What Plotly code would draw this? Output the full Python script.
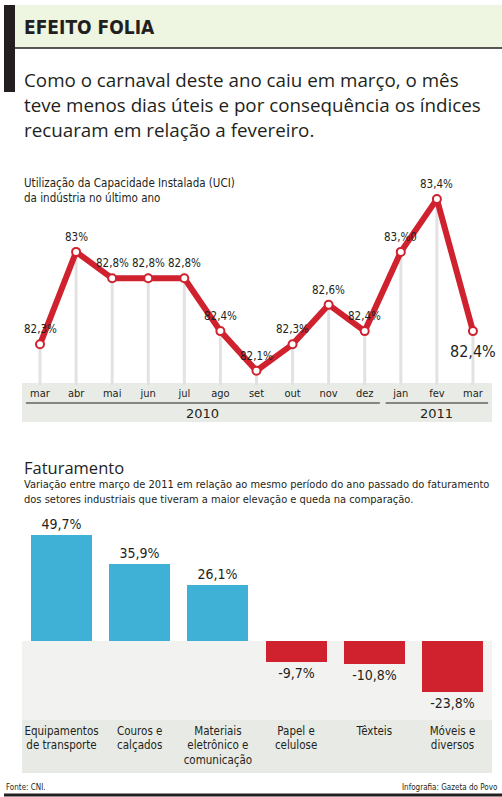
import plotly.graph_objects as go

# dados UCI (utilizacao da capacidade instalada)
meses = ['mar', 'abr', 'mai', 'jun', 'jul', 'ago', 'set', 'out', 'nov', 'dez', 'jan', 'fev', 'mar']
uci = [82.3, 83.0, 82.8, 82.8, 82.8, 82.4, 82.1, 82.3, 82.6, 82.4, 83.0, 83.4, 82.4]
uci_rotulos = ['82,3%', '83%', '82,8%', '82,8%', '82,8%', '82,4%', '82,1%', '82,3%',
               '82,6%', '82,4%', '83,%0', '83,4%', '82,4%']

# dados faturamento
setores = ['Equipamentos<br>de transporte', 'Couros e<br>calçados',
           'Materiais<br>eletrônico e<br>comunicação', 'Papel e<br>celulose',
           'Têxteis', 'Móveis e<br>diversos']
faturamento = [49.7, 35.9, 26.1, -9.7, -10.8, -23.8]
fat_rotulos = ['49,7%', '35,9%', '26,1%', '-9,7%', '-10,8%', '-23,8%']

W, H = 502, 797
VERMELHO = '#d0222e'
AZUL = '#3fb1d6'
TINTA = '#231f20'
NARROW = 'DejaVu Sans Condensed, Liberation Sans Narrow, sans-serif'


def py(px):
    # pixel (do topo) -> coordenada paper
    return 1 - px / H


fig = go.Figure()

# linhas verticais cinzas de cada ponto ate o eixo
y_min = 82.1 - (385 - 370.7) / 132
gx, gy = [], []
for i, v in enumerate(uci):
    gx += [i, i, None]
    gy += [v, y_min, None]
fig.add_trace(go.Scatter(x=gx, y=gy, mode='lines', line=dict(color='#e2e2e2', width=3),
                         hoverinfo='skip', showlegend=False))

fig.add_trace(go.Scatter(
    x=list(range(len(uci))), y=uci, mode='lines+markers',
    line=dict(color=VERMELHO, width=6),
    marker=dict(size=8, color='white', line=dict(color=VERMELHO, width=2)),
    showlegend=False, cliponaxis=False))

for i, (v, t) in enumerate(zip(uci, uci_rotulos)):
    ultimo = i == len(uci) - 1
    fig.add_annotation(x=i, y=v, xref='x', yref='y', text=t, showarrow=False,
                       yshift=-20 if ultimo else 15,
                       font=dict(family=NARROW, size=16 if ultimo else 11.5, color=TINTA))

# barras do faturamento
fig.add_trace(go.Bar(
    x=list(range(len(setores))), y=faturamento, xaxis='x2', yaxis='y2',
    width=0.78, marker=dict(color=[AZUL if v > 0 else VERMELHO for v in faturamento], line=dict(width=0)),
    text=fat_rotulos, textposition='outside', cliponaxis=False,
    textfont=dict(family=NARROW, size=14, color=TINTA),
    showlegend=False))

shapes = [
    # cabecalho
    dict(type='rect', xref='paper', yref='paper', x0=15 / W, x1=1, y0=py(48), y1=py(5),
         fillcolor='#eef5e1', line_width=0, layer='below'),
    dict(type='rect', xref='paper', yref='paper', x0=4 / W, x1=15 / W, y0=py(92), y1=py(5),
         fillcolor=TINTA, line_width=0),
    dict(type='line', xref='paper', yref='paper', x0=15 / W, x1=1, y0=py(48), y1=py(48),
         line=dict(color=TINTA, width=1.5)),
    # faixa dos meses
    dict(type='rect', xref='paper', yref='paper', x0=22 / W, x1=492 / W, y0=py(422), y1=py(383),
         fillcolor='#e9ece6', line_width=0, layer='below'),
    dict(type='line', xref='x', yref='paper', x0=-0.39, x1=9.42, y0=py(403), y1=py(403),
         line=dict(color=TINTA, width=1.2)),
    dict(type='line', xref='x', yref='paper', x0=9.58, x1=12.42, y0=py(403), y1=py(403),
         line=dict(color=TINTA, width=1.2)),
    # faixas do grafico de barras
    dict(type='rect', xref='paper', yref='paper', x0=22 / W, x1=492 / W, y0=py(720), y1=py(641),
         fillcolor='#f2f3f0', line_width=0, layer='below'),
    dict(type='rect', xref='paper', yref='paper', x0=22 / W, x1=492 / W, y0=py(773), y1=py(720),
         fillcolor='#e8ebe5', line_width=0, layer='below'),
    # linha do rodape
    dict(type='line', xref='paper', yref='paper', x0=4 / W, x1=1, y0=py(795), y1=py(795),
         line=dict(color=TINTA, width=3)),
]

PARA = dict(family='Open Sans', size=18.8, color=TINTA)
textos = [
    dict(x=22 / W, y=py(27), text='<b>EFEITO FOLIA</b>', font=dict(family=NARROW, size=19, color=TINTA)),
    dict(x=22 / W, y=py(80), text='Como o carnaval deste ano caiu em março, o mês', font=PARA),
    dict(x=22 / W, y=py(105), text='teve menos dias úteis e por consequência os índices', font=PARA),
    dict(x=22 / W, y=py(130), text='recuaram em relação a fevereiro.', font=PARA),
    dict(x=22 / W, y=py(183), text='Utilização da Capacidade Instalada (UCI)',
         font=dict(family=NARROW, size=11.5, color=TINTA)),
    dict(x=22 / W, y=py(198), text='da indústria no último ano',
         font=dict(family=NARROW, size=11.5, color=TINTA)),
    dict(x=22 / W, y=py(467), text='Faturamento', font=dict(family='Open Sans', size=16.5, color=TINTA)),
    dict(x=22 / W, y=py(484),
         text='Variação entre março de 2011 em relação ao mesmo período do ano passado do faturamento',
         font=dict(family=NARROW, size=11, color=TINTA)),
    dict(x=22 / W, y=py(499),
         text='dos setores industriais que tiveram a maior elevação e queda na comparação.',
         font=dict(family=NARROW, size=11, color=TINTA)),
    dict(x=4 / W, y=py(787), text='Fonte: CNI.', font=dict(family=NARROW, size=8, color=TINTA)),
]
for t in textos:
    fig.add_annotation(xref='paper', yref='paper', xanchor='left', yanchor='middle',
                       showarrow=False, **t)
fig.add_annotation(xref='paper', yref='paper', x=500 / W, y=py(787), xanchor='right', yanchor='middle',
                   showarrow=False, text='Infografia: Gazeta do Povo',
                   font=dict(family=NARROW, size=8, color=TINTA))
for ano, xc in [('2010', 4.5), ('2011', 11)]:
    fig.add_annotation(xref='x', yref='paper', x=xc, y=py(413), text=ano, showarrow=False,
                       yanchor='middle', font=dict(family='DejaVu Sans', size=13, color=TINTA))

fig.update_layout(
    width=W, height=H, margin=dict(l=0, r=0, t=0, b=0),
    paper_bgcolor='white', plot_bgcolor='rgba(0,0,0,0)',
    shapes=shapes, bargap=0,
    xaxis=dict(domain=[0, 1], range=[-40 / 36.08, (W - 40) / 36.08], tickvals=list(range(len(meses))),
               ticktext=meses, showgrid=False, zeroline=False, showline=False, ticks='',
               tickfont=dict(family=NARROW, size=11, color=TINTA), fixedrange=True),
    yaxis=dict(domain=[py(385), py(170)], range=[y_min, 82.1 + (370.7 - 170) / 132],
               visible=False, fixedrange=True),
    xaxis2=dict(domain=[0, 1], anchor='y2', range=[-61.5 / 78.2, (W - 61.5) / 78.2],
                tickvals=list(range(len(setores))), ticktext=setores, showgrid=False,
                zeroline=False, showline=False, ticks='',
                tickfont=dict(family=NARROW, size=11.5, color=TINTA), fixedrange=True),
    yaxis2=dict(domain=[py(722), py(520)], range=[-(722 - 641) / 2.14, (641 - 520) / 2.14],
                visible=False, fixedrange=True),
)

fig.write_html('out.html', config={'displayModeBar': False},
               post_script="document.body.style.margin='0';document.body.style.overflow='hidden';")
